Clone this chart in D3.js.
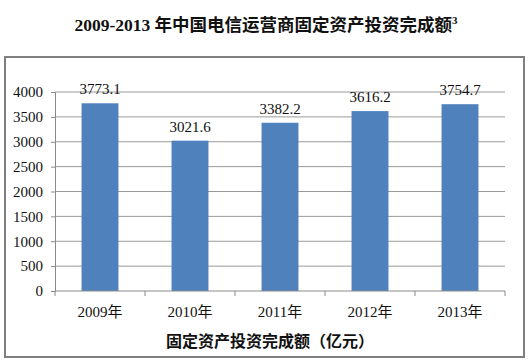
<!DOCTYPE html>
<html>
<head>
<meta charset="utf-8">
<script src="https://cdn.jsdelivr.net/npm/d3@7"></script>
<style>
  body { margin: 0; background: #fff; }
  svg { display: block; }
</style>
</head>
<body>
<div id="chart"></div>
<script>
// chart data
const years = ['2009年', '2010年', '2011年', '2012年', '2013年'];
const investment = [3773.1, 3021.6, 3382.2, 3616.2, 3754.7];
const yTicks = [0, 500, 1000, 1500, 2000, 2500, 3000, 3500, 4000];

const W = 528, H = 361;
const margin = { top: 92, right: 22, bottom: 70, left: 55 };
const width = 450, height = 199;
const serif = '"Liberation Serif", "Times New Roman", "Noto Sans CJK SC", serif';

const svg = d3.select('#chart').append('svg')
  .attr('width', W)
  .attr('height', H);

// title
const title = svg.append('text')
  .attr('x', 266)
  .attr('y', 31)
  .attr('text-anchor', 'middle')
  .style('font-family', serif)
  .style('font-size', '17.5px')
  .style('font-weight', 'bold')
  .style('fill', '#111');
title.append('tspan').text('2009-2013 年中国电信运营商固定资产投资完成额');
title.append('tspan').attr('dy', -7).style('font-size', '11px').text('3');

// outer frame
svg.append('rect')
  .attr('x', 5).attr('y', 57)
  .attr('width', 519).attr('height', 300)
  .style('fill', 'none')
  .style('stroke', '#7f7f7f')
  .style('stroke-width', 2);

const g = svg.append('g')
  .attr('transform', `translate(${margin.left},${margin.top})`);

const x = d3.scaleBand().domain(years).range([0, width]).paddingInner(0.59).paddingOuter(0.295);
const y = d3.scaleLinear().domain([0, 4000]).range([height, 0]);

// gridlines
g.append('g')
  .selectAll('line')
  .data(yTicks.filter(d => d > 0))
  .join('line')
  .attr('x1', 0).attr('x2', width)
  .attr('y1', d => y(d)).attr('y2', d => y(d))
  .style('stroke', '#9a9a9a')
  .style('stroke-width', 1);

// y axis
const yAxis = g.append('g')
  .call(d3.axisLeft(y).tickValues(yTicks).tickFormat(d3.format('d')).tickSize(4).tickPadding(8));
yAxis.select('.domain').style('stroke', '#8a8a8a');
yAxis.selectAll('.tick line').style('stroke', '#8a8a8a');
yAxis.selectAll('text')
  .style('font-family', serif)
  .style('font-size', '15px')
  .style('fill', '#111');

// bars
g.selectAll('.bar')
  .data(investment)
  .join('rect')
  .attr('class', 'bar')
  .attr('x', (d, i) => x(years[i]))
  .attr('y', d => y(d))
  .attr('width', x.bandwidth())
  .attr('height', d => height - y(d))
  .style('fill', '#4f81bd');

// value labels
g.selectAll('.val')
  .data(investment)
  .join('text')
  .attr('class', 'val')
  .attr('x', (d, i) => x(years[i]) + x.bandwidth() / 2)
  .attr('y', d => y(d) - 9)
  .attr('text-anchor', 'middle')
  .style('font-family', serif)
  .style('font-size', '15px')
  .style('fill', '#111')
  .text(d => d.toFixed(1));

// x axis with category separators
const step = x.step();
const xAxis = g.append('g').attr('transform', `translate(0,${height})`);
xAxis.append('line')
  .attr('x1', 0).attr('x2', width)
  .attr('y1', 0).attr('y2', 0)
  .style('stroke', '#8a8a8a');
xAxis.selectAll('.sep')
  .data(d3.range(years.length + 1))
  .join('line')
  .attr('class', 'sep')
  .attr('x1', i => i * step).attr('x2', i => i * step)
  .attr('y1', 0).attr('y2', 5)
  .style('stroke', '#8a8a8a');
xAxis.selectAll('.cat')
  .data(years)
  .join('text')
  .attr('class', 'cat')
  .attr('x', d => x(d) + x.bandwidth() / 2)
  .attr('y', 26)
  .attr('text-anchor', 'middle')
  .style('font-family', serif)
  .style('font-size', '15px')
  .style('fill', '#111')
  .text(d => d);

// axis title
svg.append('text')
  .attr('x', 270)
  .attr('y', 347)
  .attr('text-anchor', 'middle')
  .style('font-family', serif)
  .style('font-size', '16px')
  .style('font-weight', 'bold')
  .style('fill', '#111')
  .text('固定资产投资完成额（亿元）');
</script>
</body>
</html>
